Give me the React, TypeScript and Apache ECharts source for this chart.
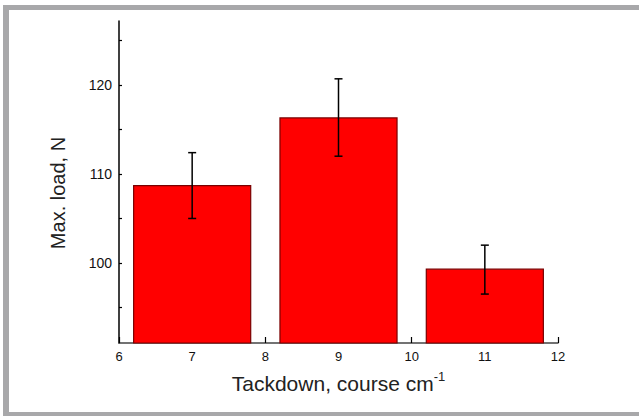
import React, { useEffect, useRef } from "react";
import * as echarts from "echarts";

const tackdown = [7, 9, 11];
const maxLoad = [108.7, 116.3, 99.3];
const errLow = [105.0, 112.0, 96.5];
const errHigh = [112.4, 120.7, 102.0];
const xTicks = [6, 7, 8, 9, 10, 11, 12];
const yLabels = [100, 110, 120];
const yTicks = [95, 100, 105, 110, 115, 120, 125];

const Y_MIN = 91;
const Y_MAX = 127.2;
const BAR_HALF = 0.8;

export default function App() {
  const ref = useRef<HTMLDivElement>(null);
  useEffect(() => {
    if (!ref.current) return;
    const chart = echarts.init(ref.current, null, { renderer: "svg" });
    const font = "Liberation Sans, Arial, sans-serif";
    const option: any = {
      animation: false,
      backgroundColor: "#ffffff",
      grid: { left: 119, right: 81, top: 21, bottom: 73 },
      xAxis: {
        type: "value",
        min: 6,
        max: 12,
        interval: 1,
        name: "{a|Tackdown, course cm}{b|-1}",
        nameLocation: "middle",
        nameGap: 27,
        nameTextStyle: {
          rich: {
            a: { fontSize: 21, fontFamily: font, color: "#222", verticalAlign: "bottom", lineHeight: 24 },
            b: { fontSize: 13, fontFamily: font, color: "#222", verticalAlign: "top", lineHeight: 24 },
          },
        },
        axisLine: { show: true, lineStyle: { color: "#444", width: 1.5 } },
        axisTick: { show: true, inside: true, length: 6, lineStyle: { color: "#000", width: 1.2 }, customValues: xTicks },
        axisLabel: { show: true, margin: 7, fontSize: 13, fontFamily: font, color: "#111", customValues: xTicks },
        splitLine: { show: false },
      },
      yAxis: {
        type: "value",
        min: Y_MIN,
        max: Y_MAX,
        axisLine: { show: true, onZero: false, lineStyle: { color: "#000", width: 1.5 } },
        axisTick: { show: true, inside: true, length: 3, lineStyle: { color: "#000", width: 1.2 }, customValues: yTicks },
        axisLabel: { show: true, margin: 7, fontSize: 14, fontFamily: font, color: "#111", customValues: yLabels },
        splitLine: { show: false },
      },
      graphic: [
        { type: "rect", shape: { x: 3, y: 5, width: 636, height: 5 }, style: { fill: "#a8a8aa" }, silent: true },
        { type: "rect", shape: { x: 3, y: 5, width: 6, height: 411 }, style: { fill: "#a8a8aa" }, silent: true },
        { type: "rect", shape: { x: 3, y: 412, width: 636, height: 4 }, style: { fill: "#a8a8aa" }, silent: true },
        {
          type: "text",
          x: 58,
          y: 193,
          rotation: Math.PI / 2,
          style: {
            text: "Max. load, N",
            fontSize: 20,
            fontFamily: font,
            fill: "#222",
            align: "center",
            verticalAlign: "middle",
          },
        },
      ],
      series: [
        {
          type: "custom",
          data: tackdown.map((x, i) => [x, maxLoad[i]]),
          renderItem: (params: any, api: any) => {
            const x = api.value(0);
            const v = api.value(1);
            const p1 = api.coord([x - BAR_HALF, v]);
            const p2 = api.coord([x + BAR_HALF, Y_MIN]);
            return {
              type: "rect",
              shape: { x: p1[0], y: p1[1], width: p2[0] - p1[0], height: p2[1] - p1[1] },
              style: { fill: "#ff0000", stroke: "#7a0000", lineWidth: 1.2 },
            };
          },
          z: 1,
        },
        {
          type: "custom",
          data: tackdown.map((x, i) => [x, errLow[i], errHigh[i]]),
          renderItem: (params: any, api: any) => {
            const x = api.value(0);
            const lo = api.coord([x, api.value(1)]);
            const hi = api.coord([x, api.value(2)]);
            const cap = 4;
            const style = { stroke: "#000", lineWidth: 1.5 };
            return {
              type: "group",
              children: [
                { type: "line", shape: { x1: lo[0], y1: lo[1], x2: hi[0], y2: hi[1] }, style },
                { type: "line", shape: { x1: lo[0] - cap, y1: lo[1], x2: lo[0] + cap, y2: lo[1] }, style },
                { type: "line", shape: { x1: hi[0] - cap, y1: hi[1], x2: hi[0] + cap, y2: hi[1] }, style },
              ],
            };
          },
          z: 3,
        },
      ],
    };
    chart.setOption(option);
    return () => chart.dispose();
  }, []);
  return (
    <div
      ref={ref}
      style={{ position: "fixed", left: 0, top: 0, width: 639, height: 416 }}
    />
  );
}
